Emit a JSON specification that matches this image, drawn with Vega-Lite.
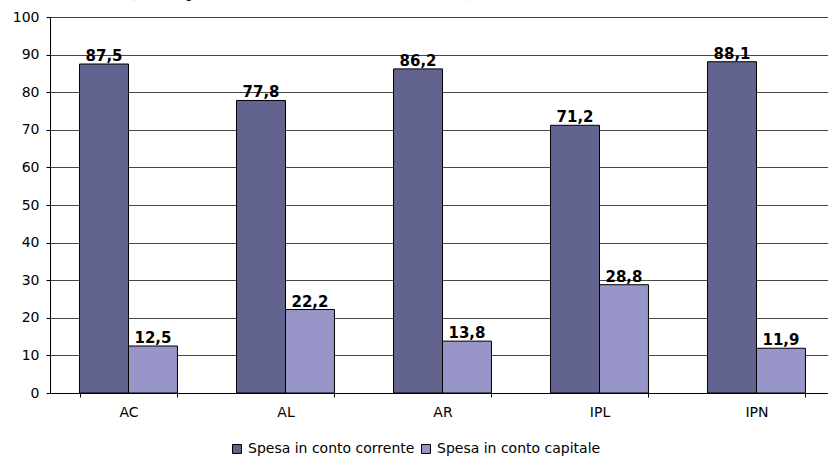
{
  "$schema": "https://vega.github.io/schema/vega-lite/v6.json",
  "autosize": "none",
  "padding": {"left": 50, "top": 17, "right": 0, "bottom": 64},
  "width": 785,
  "height": 376,
  "background": "white",
  "title": {
    "text": "(valori percentuali; media anni 2000-2007)",
    "font": "Liberation Serif",
    "fontSize": 20,
    "fontWeight": "normal",
    "anchor": "start",
    "frame": "group",
    "dx": 78,
    "offset": -10,
    "baseline": "bottom",
    "color": "#000"
  },
  "data": {
    "values": [
      {"ente": "AC", "tipo": "Spesa in conto corrente", "valore": 87.5, "lab": "87,5"},
      {"ente": "AC", "tipo": "Spesa in conto capitale", "valore": 12.5, "lab": "12,5"},
      {"ente": "AL", "tipo": "Spesa in conto corrente", "valore": 77.8, "lab": "77,8"},
      {"ente": "AL", "tipo": "Spesa in conto capitale", "valore": 22.2, "lab": "22,2"},
      {"ente": "AR", "tipo": "Spesa in conto corrente", "valore": 86.2, "lab": "86,2"},
      {"ente": "AR", "tipo": "Spesa in conto capitale", "valore": 13.8, "lab": "13,8"},
      {"ente": "IPL", "tipo": "Spesa in conto corrente", "valore": 71.2, "lab": "71,2"},
      {"ente": "IPL", "tipo": "Spesa in conto capitale", "valore": 28.8, "lab": "28,8"},
      {"ente": "IPN", "tipo": "Spesa in conto corrente", "valore": 88.1, "lab": "88,1"},
      {"ente": "IPN", "tipo": "Spesa in conto capitale", "valore": 11.9, "lab": "11,9"}
    ]
  },
  "encoding": {
    "x": {
      "field": "ente", "type": "nominal", "sort": null,
      "scale": {"paddingInner": 0.376, "paddingOuter": 0.188},
      "axis": {
        "title": null, "labelAngle": 0, "labelFont": "DejaVu Sans", "labelFontSize": 14,
        "labelColor": "#000", "labelPadding": 8, "domainColor": "#000", "tickColor": "#000",
        "tickBand": "extent", "tickSize": 4, "grid": false
      }
    },
    "xOffset": {"field": "tipo", "type": "nominal", "sort": ["Spesa in conto corrente", "Spesa in conto capitale"]},
    "y": {
      "field": "valore", "type": "quantitative",
      "scale": {"domain": [0, 100], "nice": false},
      "axis": {
        "title": null, "values": [0,10,20,30,40,50,60,70,80,90,100],
        "labelFont": "DejaVu Sans", "labelFontSize": 14, "labelColor": "#000", "labelPadding": 7,
        "domainColor": "#000", "tickColor": "#000", "tickSize": 4,
        "gridColor": "#333", "gridWidth": 1, "gridOpacity": 0.9
      }
    }
  },
  "layer": [
    {
      "mark": {"type": "bar", "stroke": "#000", "strokeWidth": 1},
      "encoding": {
        "color": {
          "field": "tipo", "type": "nominal",
          "sort": ["Spesa in conto corrente", "Spesa in conto capitale"],
          "scale": {"domain": ["Spesa in conto corrente", "Spesa in conto capitale"], "range": ["#636390", "#9896c8"]},
          "legend": {
            "title": null, "orient": "none", "direction": "horizontal",
            "legendX": 180, "legendY": 425, "labelLimit": 0,
            "labelFont": "DejaVu Sans", "labelFontSize": 14, "labelColor": "#000",
            "symbolType": "square", "symbolSize": 80, "symbolStrokeColor": "#000", "symbolStrokeWidth": 1,
            "columnPadding": 4, "labelOffset": 4, "symbolOpacity": 1
          }
        }
      }
    },
    {
      "mark": {"type": "text", "baseline": "alphabetic", "dy": -3, "font": "DejaVu Sans", "fontWeight": "bold", "fontSize": 15, "color": "#000"},
      "encoding": {"text": {"field": "lab"}}
    }
  ]
}
